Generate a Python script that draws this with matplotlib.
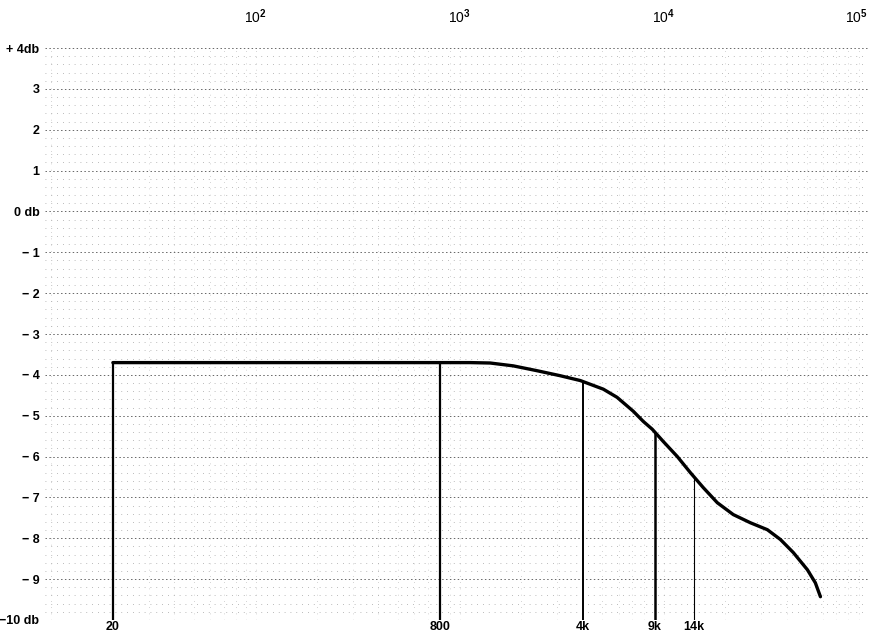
import numpy as np
import matplotlib
matplotlib.use("Agg")
import matplotlib.pyplot as plt
from matplotlib.ticker import FixedLocator, NullFormatter

# ---- data ----
freq_hz = [20, 100, 800, 1125, 1410, 1830, 2400, 3100, 3900, 5050, 5900,
           7080, 7930, 8770, 9930, 11640, 13470, 15600, 18280, 21880,
           26540, 32140, 37240, 43080, 50480, 55220, 58480]
level_db = [-3.7, -3.7, -3.7, -3.7, -3.71, -3.78, -3.90, -4.02, -4.14,
            -4.35, -4.55, -4.89, -5.14, -5.33, -5.63, -6.00, -6.39, -6.76,
            -7.13, -7.42, -7.62, -7.79, -8.03, -8.35, -8.77, -9.09, -9.43]

marker_freq = [20, 800, 4000, 9000, 14000]
marker_db = [-3.7, -3.7, -4.16, -5.40, -6.49]
marker_labels = ["20", "800", "4k", "9k", "14k"]
marker_widths = [1.6, 1.6, 1.4, 1.8, 0.8]

ytick_vals = [4, 3, 2, 1, 0, -1, -2, -3, -4, -5, -6, -7, -8, -9, -10]
ytick_labels = ["+ 4db", "3", "2", "1", "0 db", "\u2212 1", "\u2212 2", "\u2212 3",
                "\u2212 4", "\u2212 5", "\u2212 6", "\u2212 7", "\u2212 8",
                "\u2212 9", "\u221210 db"]
top_ticks = [1e2, 1e3, 1e4, 1e5]
top_labels = ["10$^2$", "10$^3$", "10$^4$", "10$^5$"]

plt.rcParams['font.family'] = ['Liberation Sans', 'DejaVu Sans']
plt.rcParams['mathtext.fontset'] = 'custom'
plt.rcParams['mathtext.rm'] = 'Liberation Sans:bold'
plt.rcParams['mathtext.it'] = 'Liberation Sans:bold'
plt.rcParams['mathtext.bf'] = 'Liberation Sans:bold'

W, H = 871, 634
fig = plt.figure(figsize=(W / 100, H / 100), dpi=100)
ax = fig.add_axes([45 / W, 14 / H, 823 / W, 572 / H])
ax.set_xscale('log')
ax.set_xlim(9.3, 1.0e5)
ax.set_ylim(-10, 4)

for s in ax.spines.values():
    s.set_visible(False)

# dotted grid imitating the scanned chart paper
ax.set_yticks(ytick_vals)
ax.set_yticklabels(ytick_labels, fontsize=9, fontweight='bold')
ax.yaxis.set_minor_locator(FixedLocator(np.arange(-10, 4.01, 0.2)))
ax.grid(True, which='major', axis='y', color='#666666', lw=0.7,
        linestyle=(0, (1.5, 2.5)))
ax.grid(True, which='minor', axis='y', color='#a5a5a5', lw=0.6,
        linestyle=(0, (1, 6)))
ax.xaxis.set_minor_locator(FixedLocator(
    [m * 10 ** e for e in range(1, 5) for m in range(1, 10)]))
ax.xaxis.set_minor_formatter(NullFormatter())
ax.grid(True, which='minor', axis='x', color='#acacac', lw=0.5,
        linestyle=(0, (1, 8)))
ax.tick_params(axis='y', which='both', length=0, pad=4)
ax.tick_params(axis='x', which='both', length=0)

# bottom labels for the marker frequencies
ax.set_xticks(marker_freq)
ax.set_xticklabels(marker_labels, fontsize=9, fontweight='bold')
ax.tick_params(axis='x', which='major', pad=1)

# top decade labels
sec = ax.secondary_xaxis('top')
sec.set_xticks(top_ticks)
sec.set_xticklabels(top_labels, fontsize=10)
sec.xaxis.set_minor_locator(FixedLocator([]))
sec.tick_params(length=0, pad=16)
for s in sec.spines.values():
    s.set_visible(False)
sec.get_xticklabels()[-1].set_horizontalalignment('right')

# marker verticals
for f, v, lw in zip(marker_freq, marker_db, marker_widths):
    ax.vlines(f, -10, v, color='black', lw=lw, zorder=3)

# response curve
ax.plot(freq_hz, level_db, color='black', lw=2.4, solid_capstyle='round',
        solid_joinstyle='round', zorder=4)

fig.savefig("out.png", dpi=100)
